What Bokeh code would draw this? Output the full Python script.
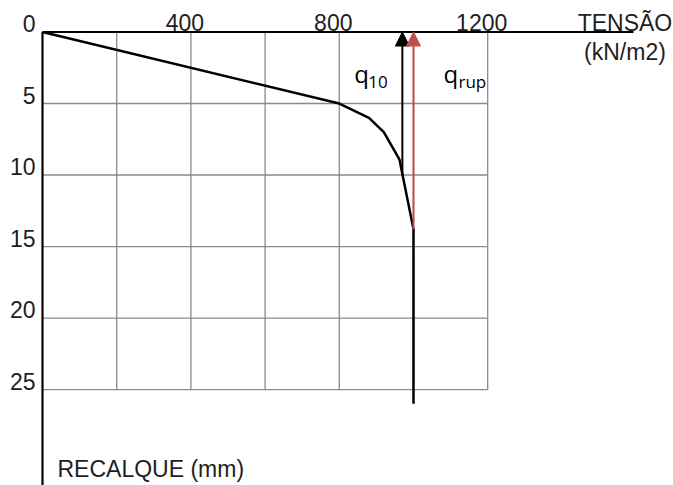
from bokeh.plotting import figure
from bokeh.models import Range1d, Arrow, NormalHead, LabelSet, ColumnDataSource
from bokeh.embed import file_html
from bokeh.resources import INLINE
from bokeh.core.properties import value

# ---- data ----
tensao = [0, 800, 880, 920, 962, 1000, 1000]          # kN/m2
recalque = [0, 5, 6, 7, 8.9, 13.8, 26.0]              # mm
q10 = 970
q10_recalque = 10
qrup = 1000
qrup_recalque = 13.8

x_grid = [200, 400, 600, 800, 1000, 1200]
y_grid = [5, 10, 15, 20, 25]
x_ticks = [400, 800, 1200]
x_tick_labels = ["400", "800", "1200"]
y_ticks = [0, 5, 10, 15, 20, 25]
y_tick_labels = ["0", "5", "10", "15", "20", "25"]
x_max = 1200
y_max = 25
x_axis_end = 1593
x_title_pos = 1570

W, H = 673, 485
x_rng = Range1d(-113.2, 1700.8)
y_rng = Range1d(31.71, -2.203)

p = figure(width=W, height=H, x_range=x_rng, y_range=y_rng,
           x_axis_type=None, y_axis_type=None,
           output_backend="svg", toolbar_location=None, min_border=0)
p.grid.visible = False
p.outline_line_color = None
p.background_fill_color = "white"

grid_color = "#8a8a8a"
# vertical grid lines
p.segment(x0=x_grid, y0=[0] * len(x_grid), x1=x_grid, y1=[y_max] * len(x_grid),
          line_color=grid_color, line_width=1.3)
# horizontal grid lines
p.segment(x0=[0] * len(y_grid), y0=y_grid, x1=[x_max] * len(y_grid), y1=y_grid,
          line_color=grid_color, line_width=1.3)

# axes lines
p.segment(x0=[0], y0=[0], x1=[x_axis_end], y1=[0], line_color="black", line_width=2.2)
p.segment(x0=[0], y0=[0], x1=[0], y1=[y_rng.start], line_color="black", line_width=2.2)

# curve
p.line(tensao, recalque, line_color="black", line_width=2.5, line_join="round")

# arrows
p.add_layout(Arrow(end=NormalHead(size=14, fill_color="black", line_color="black"),
                   x_start=q10, y_start=q10_recalque, x_end=q10, y_end=0,
                   line_color="black", line_width=2))
red = "#c0504d"
p.add_layout(Arrow(end=NormalHead(size=14, fill_color=red, line_color=red),
                   x_start=qrup, y_start=qrup_recalque, x_end=qrup, y_end=0,
                   line_color=red, line_width=2))

tick_font = "Liberation Sans"
txt_color = "#1e1e1e"


def add_text(xs, ys, texts, font, size, color, align="left", xo=0, yo=0):
    src = ColumnDataSource(dict(x=xs, y=ys, t=texts))
    p.add_layout(LabelSet(x="x", y="y", text="t", source=src, text_align=align,
                          text_baseline="alphabetic", x_offset=xo, y_offset=yo,
                          text_font=value(font), text_font_size=size, text_color=color))


# tick labels
add_text(x_ticks, [0] * len(x_ticks), x_tick_labels, tick_font, "23px", txt_color,
         align="center", xo=-6, yo=1)
add_text([0] * len(y_ticks), y_ticks, y_tick_labels, tick_font, "23px", txt_color,
         align="right", xo=-7, yo=0)

# axis titles
add_text([x_title_pos], [0], ["TENSÃO"], tick_font, "23px", txt_color, align="center", yo=1.5)
add_text([x_title_pos], [0], ["(kN/m2)"], tick_font, "23px", txt_color, align="center", yo=-27.5)
add_text([0], [y_rng.start], ["RECALQUE (mm)"], tick_font, "23px", txt_color, xo=15, yo=9)

# q labels
qfont = "Open Sans"
add_text([q10], [0], ["q"], qfont, "24px", "black", xo=-48, yo=-50.5)
add_text([q10], [0], ["10"], qfont, "17px", "black", xo=-34, yo=-55.5)
add_text([qrup], [0], ["q"], qfont, "24px", "black", xo=30, yo=-50.5)
add_text([qrup], [0], ["rup"], qfont, "17px", "black", xo=45, yo=-55.5)

open("out.html", "w").write(file_html(p, INLINE))
